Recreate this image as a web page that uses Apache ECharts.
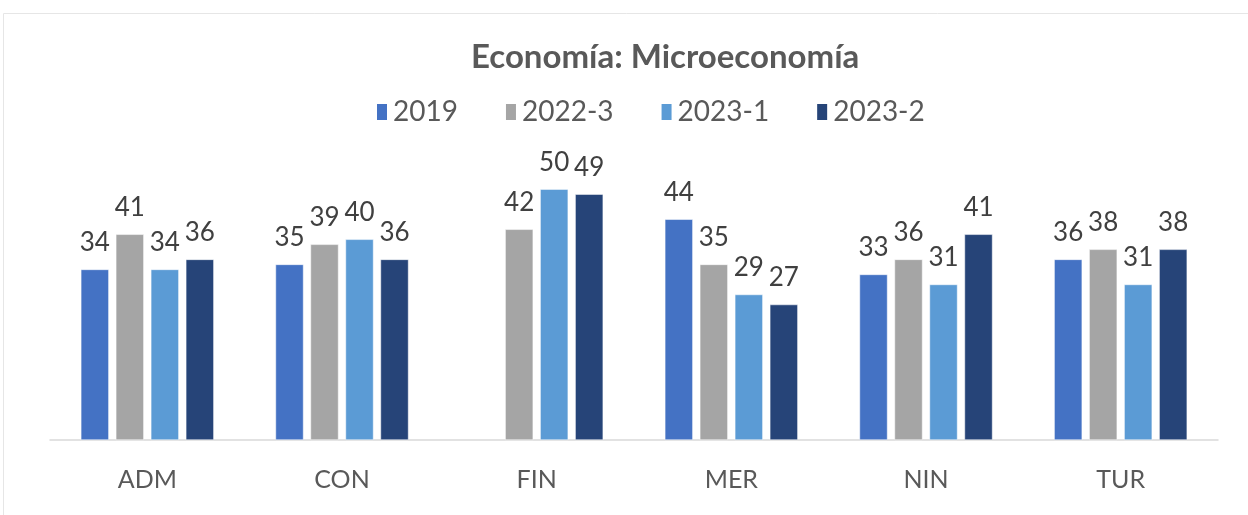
<!DOCTYPE html>
<html>
<head>
<meta charset="utf-8">
<script src="https://cdn.jsdelivr.net/npm/echarts@6/dist/echarts.min.js"></script>
<style>
  html, body { margin: 0; padding: 0; background: #fff; }
  #chart { width: 1248px; height: 515px; }
</style>
</head>
<body>
<div id="chart"></div>
<script>
const categories = ['ADM', 'CON', 'FIN', 'MER', 'NIN', 'TUR'];
const seriesNames = ['2019', '2022-3', '2023-1', '2023-2'];
const v2019  = [34, 35, null, 44, 33, 36];
const v20223 = [41, 39, 42, 35, 36, 38];
const v20231 = [34, 40, 50, 29, 31, 31];
const v20232 = [36, 36, 49, 27, 41, 38];
const colors = ['#4472C4', '#A5A5A5', '#5B9BD5', '#264478'];

const font = 'Lato, "Open Sans", sans-serif';
const allValues = [v2019, v20223, v20231, v20232];

const chart = echarts.init(document.getElementById('chart'), null, { renderer: 'canvas' });

chart.setOption({
  backgroundColor: '#fff',
  animation: false,
  title: {
    text: 'Economía: Microeconomía',
    left: 466,
    top: 36,
    textStyle: { fontFamily: font, fontSize: 33, fontWeight: 'bold', color: '#595959' }
  },
  legend: {
    data: seriesNames,
    left: 370,
    top: 93,
    itemWidth: 12,
    itemHeight: 18,
    itemGap: 46,
    icon: 'rect',
    textStyle: { fontFamily: font, fontSize: 28, color: '#595959' }
  },
  graphic: [{
    type: 'rect',
    shape: { x: 3.5, y: 13.5, width: 1260, height: 520 },
    style: { fill: 'none', stroke: '#E6E6E6', lineWidth: 1 },
    silent: true,
    z: -1
  }],
  grid: { left: 50, right: 30, top: 139, bottom: 75, containLabel: false },
  xAxis: {
    type: 'category',
    data: categories,
    axisLine: { lineStyle: { color: '#D9D9D9', width: 1.5 } },
    axisTick: { show: false },
    axisLabel: { fontFamily: font, fontSize: 25, color: '#595959', margin: 27 }
  },
  yAxis: {
    type: 'value',
    min: 0,
    max: 60,
    show: false,
    splitLine: { show: false }
  },
  series: seriesNames.map((name, i) => ({
    name: name,
    type: 'bar',
    data: allValues[i],
    barWidth: 28,
    barGap: '25%',
    itemStyle: { color: colors[i], borderColor: '#fff', borderWidth: 0.5 },
    label: {
      show: true,
      position: 'top',
      distance: 14,
      fontFamily: font,
      fontSize: 26,
      color: '#404040'
    }
  }))
});
</script>
</body>
</html>
